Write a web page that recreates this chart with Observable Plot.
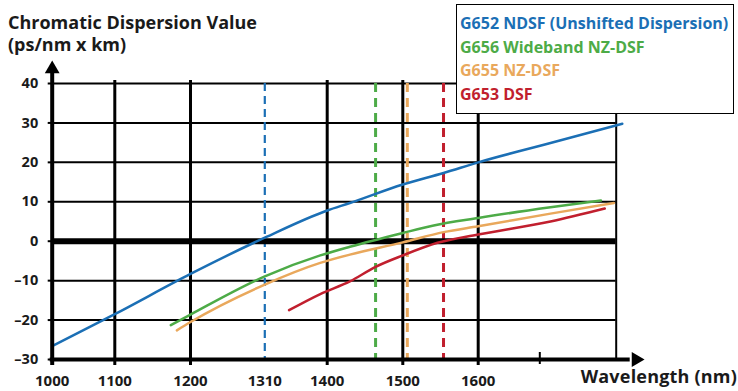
<!DOCTYPE html>
<html>
<head>
<meta charset="utf-8">
<script src="https://cdn.jsdelivr.net/npm/d3@7"></script>
<script src="https://cdn.jsdelivr.net/npm/@observablehq/plot@0.6"></script>
<style>
  html, body { margin: 0; padding: 0; background: #fff; }
  #figure { position: relative; width: 738px; height: 391px; overflow: hidden;
            font-family: "Open Sans", sans-serif; font-weight: 700; color: #1a1a1a; }
  #figure svg { position: absolute; left: 0; top: 0; }
  .title { position: absolute; left: 8px; top: 10.7px; font-size: 18px; line-height: 22px; white-space: nowrap; }
  .legend-box { position: absolute; left: 456px; top: 4px; width: 278px; height: 110px;
                box-sizing: border-box; border: 1.7px solid #000; background: #fff; }
  .legend-item { position: absolute; left: 460px; font-size: 16px; line-height: 20px; white-space: nowrap; }
  .xlabel { position: absolute; right: 1px; top: 365px; font-size: 18px; line-height: 22px; letter-spacing: 0.2px; white-space: nowrap; }
</style>
</head>
<body>
<div id="figure">
  <div class="title">Chromatic Dispersion Value<br>(ps/nm x km)</div>
</div>
<script>
// Axis ticks
const wavelengthTicks = [1000, 1100, 1200, 1310, 1400, 1500, 1600];
const dispersionTicks = [-30, -20, -10, 0, 10, 20, 30, 40];
const gridWavelengths = [1100, 1200, 1400, 1500, 1600];
const gridDispersion = [-20, -10, 10, 20, 30, 40];
const minorWavelength = [1700];

// Fibre types
const seriesNames = [
  "G652 NDSF (Unshifted Dispersion)",
  "G656 Wideband NZ-DSF",
  "G655 NZ-DSF",
  "G653 DSF"
];
const seriesColors = ["#1b6fb5", "#4dab47", "#e9a85c", "#c11f2e"];

// Zero-dispersion markers (nm)
const zeroDispersionWavelengths = [1310, 1464, 1506, 1554];

// Dispersion curves: wavelength (nm) and dispersion (ps/nm x km)
const g652Wavelength = [1000, 1100, 1200, 1310, 1400, 1430, 1500, 1554, 1600, 1714, 1808];
const g652Dispersion = [-26.6, -18.5, -8.3, 0.9, 7.8, 9.7, 14.4, 17.3, 20.0, 24.9, 29.8];

const g656Wavelength = [1174, 1200, 1310, 1390, 1430, 1500, 1541, 1600, 1714, 1780];
const g656Dispersion = [-21.3, -18.6, -8.9, -3.6, -1.4, 2.1, 4.0, 5.9, 8.6, 10.3];

const g655Wavelength = [1182, 1200, 1310, 1390, 1430, 1500, 1554, 1600, 1714, 1797];
const g655Dispersion = [-22.6, -20.5, -11.0, -5.5, -3.4, -0.3, 2.3, 3.8, 7.0, 9.7];

const g653Wavelength = [1345, 1390, 1430, 1464, 1500, 1546, 1600, 1714, 1785];
const g653Dispersion = [-17.5, -13.4, -10.2, -6.5, -3.6, -0.4, 1.7, 5.0, 8.3];

const curveData = [
  [g652Wavelength, g652Dispersion],
  [g656Wavelength, g656Dispersion],
  [g655Wavelength, g655Dispersion],
  [g653Wavelength, g653Dispersion]
].flatMap(([wl, cd], i) => wl.map((w, j) => ({series: seriesNames[i], wavelength: w, dispersion: cd[j]})));

const markers = zeroDispersionWavelengths.map((w, i) => ({series: seriesNames[i], wavelength: w}));

const ink = "#000";

const chart = Plot.plot({
  width: 738,
  height: 391,
  marginLeft: 51.7,
  marginRight: 122.3,
  marginTop: 83,
  marginBottom: 32,
  style: {background: "transparent", overflow: "visible", fontFamily: "'Open Sans', sans-serif"},
  // the wavelength axis is drawn schematically, so each labelled wavelength has its own stop
  x: {
    type: "linear",
    domain: [1000, 1100, 1200, 1310, 1400, 1500, 1600, 1700, 1800],
    range: [51.7, 114.3, 190, 264.3, 326.7, 402.3, 477.7, 539.3, 615.7]
  },
  y: {domain: [-30, 40]},
  color: {domain: seriesNames, range: seriesColors},
  marks: [
    // grid
    Plot.ruleY(gridDispersion, {x1: 1000, x2: 1800, stroke: ink, strokeWidth: 2}),
    Plot.ruleX(gridWavelengths, {y1: 40, y2: -30, insetTop: -3, insetBottom: -6, stroke: ink, strokeWidth: 3}),
    Plot.ruleX([1800], {y1: 40, y2: -30, stroke: ink, strokeWidth: 2}),
    Plot.ruleX(minorWavelength, {y1: -30, y2: -30, insetTop: -7, insetBottom: -5, stroke: ink, strokeWidth: 2}),

    // zero-dispersion wavelengths
    Plot.ruleX(markers.slice(0, 1), {x: "wavelength", y1: 40, y2: -30, stroke: "series", strokeWidth: 2.2, strokeDasharray: "8,5"}),
    Plot.ruleX(markers.slice(1), {x: "wavelength", y1: 40, y2: -30, stroke: "series", strokeWidth: 3, strokeDasharray: "9,6"}),

    // zero dispersion line
    Plot.ruleY([0], {x1: 1000, x2: 1800, stroke: ink, strokeWidth: 6}),

    // dispersion curves
    Plot.line(curveData, {x: "wavelength", y: "dispersion", z: "series", stroke: "series", strokeWidth: 2.5, curve: "monotone-x"}),

    // axes with arrowheads
    Plot.ruleX([1000], {y1: 40, y2: -30, insetTop: -16, insetBottom: -6, stroke: ink, strokeWidth: 4}),
    Plot.ruleY([-30], {x1: 1000, x2: 1800, insetLeft: -2, insetRight: -14, stroke: ink, strokeWidth: 4}),
    Plot.dot([{w: 1000, d: 40}], {x: "w", y: "d", symbol: "triangle", r: 5.5, fill: ink, stroke: null, dy: -14.5}),
    Plot.dot([{w: 1800, d: -30}], {x: "w", y: "d", symbol: "triangle", rotate: 90, r: 5.5, fill: ink, stroke: null, dx: 19.8}),

    Plot.axisY(dispersionTicks, {
      anchor: "left", tickSize: 4, tickPadding: 10, stroke: ink, strokeWidth: 2,
      fontSize: 14.5, fontWeight: 700, fill: "#1a1a1a", label: null,
      tickFormat: d => d < 0 ? "\u2013" + Math.abs(d) : String(d)
    }),
    Plot.axisX(wavelengthTicks, {
      anchor: "bottom", tickSize: 0, tickPadding: 16,
      fontSize: 15, fontWeight: 700, fill: "#1a1a1a", label: null,
      tickFormat: d => String(d)
    })
  ]
});

const fig = document.getElementById("figure");
fig.insertBefore(chart, fig.firstChild);

// legend
const box = document.createElement("div");
box.className = "legend-box";
fig.appendChild(box);
const legendTops = [12.8, 36.5, 59.8, 83.8];
seriesNames.forEach((name, i) => {
  const item = document.createElement("div");
  item.className = "legend-item";
  item.style.top = legendTops[i] + "px";
  item.style.color = seriesColors[i];
  item.textContent = name;
  fig.appendChild(item);
});

const xl = document.createElement("div");
xl.className = "xlabel";
xl.textContent = "Wavelength (nm)";
fig.appendChild(xl);
</script>
</body>
</html>
